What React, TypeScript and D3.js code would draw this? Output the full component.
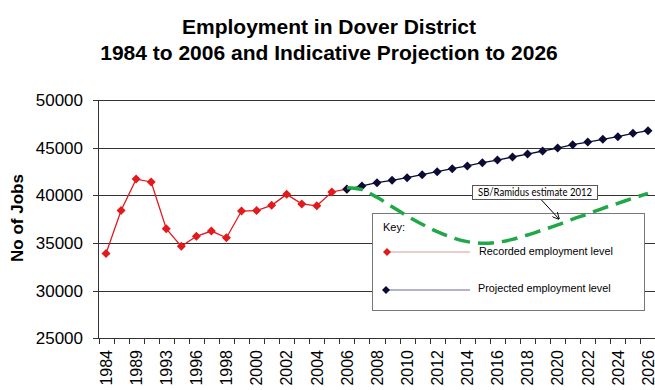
import React from "react";
import * as d3 from "d3";

const categories = [
  "1984", "1987", "1989", "1991", "1993", "1995", "1996", "1997", "1998", "1999",
  "2000", "2001", "2002", "2003", "2004", "2005", "2006", "2007", "2008", "2009",
  "2010", "2011", "2012", "2013", "2014", "2015", "2016", "2017", "2018", "2019",
  "2020", "2021", "2022", "2023", "2024", "2025", "2026",
];
const tickLabels = [
  "1984", "1989", "1993", "1996", "1998", "2000", "2002", "2004", "2006", "2008",
  "2010", "2012", "2014", "2016", "2018", "2020", "2022", "2024", "2026",
];
const recordedYears = categories.slice(0, 17);
const recordedValues = [
  33900, 38400, 41700, 41400, 36500, 34650, 35700, 36250, 35550, 38350,
  38400, 38950, 40100, 39100, 38900, 40350, 40650,
];
const projectedYears = categories.slice(16);
const projectedValues = [
  40630, 40980, 41330, 41570, 41850, 42170, 42480, 42800, 43080, 43420, 43700,
  44020, 44330, 44650, 44960, 45310, 45590, 45870, 46150, 46500, 46780,
];
const estimateValues = [
  40800, 40600, 39790, 38810, 37830, 36960, 36190, 35560, 35140, 34970, 35070,
  35380, 35840, 36360, 36890, 37510, 38040, 38640, 39160, 39690, 40210,
];
const yTicks = [25000, 30000, 35000, 40000, 45000, 50000];

const W = 655;
const H = 390;
const FONT = "'Liberation Sans', Arial, sans-serif";

function Diamond({ x, y, fill, r = 4.5 }: { x: number; y: number; fill: string; r?: number }) {
  return (
    <path
      d={`M${x},${y - r}L${x + r},${y}L${x},${y + r}L${x - r},${y}Z`}
      fill={fill}
    />
  );
}

export default function App() {
  const x = d3.scaleBand<string>().domain(categories).range([98.5, 655.5]).paddingInner(0).paddingOuter(0);
  const cx = (c: string) => (x(c) as number) + x.bandwidth() / 2;
  const y = d3.scaleLinear().domain([25000, 50000]).range([338.3, 100]);

  const line = d3.line<[string, number]>().x((d) => cx(d[0])).y((d) => y(d[1]));
  const smooth = d3
    .line<[string, number]>()
    .x((d) => cx(d[0]))
    .y((d) => y(d[1]))
    .curve(d3.curveCatmullRom.alpha(0.5));

  const recorded = recordedYears.map((c, i) => [c, recordedValues[i]] as [string, number]);
  const projected = projectedYears.map((c, i) => [c, projectedValues[i]] as [string, number]);
  const estimate = projectedYears.map((c, i) => [c, estimateValues[i]] as [string, number]);

  const boundaries = categories.map((c) => x(c) as number).concat([655.5]);

  const red = "#e31a1c";
  const navy = "#0b0b35";
  const green = "#1fa847";

  return (
    <div style={{ position: "absolute", left: 0, top: 0 }}>
      <svg width={W} height={H} style={{ display: "block", background: "#fff" }} fontFamily={FONT}>
        <defs>
          <marker id="arr" viewBox="0 0 10 10" refX="9" refY="5" markerWidth="7" markerHeight="7" orient="auto">
            <path d="M0,0L10,5L0,10" fill="none" stroke="#000" strokeWidth="1.3" />
          </marker>
        </defs>
        {/* title */}
        <text x={329} y={34} textAnchor="middle" fontSize={21} fontWeight="bold" fill="#000">
          Employment in Dover District
        </text>
        <text x={329} y={60} textAnchor="middle" fontSize={21} fontWeight="bold" fill="#000">
          1984 to 2006 and Indicative Projection to 2026
        </text>

        {/* gridlines */}
        {yTicks.map((t) => (
          <line key={t} x1={98.5} x2={655} y1={Math.round(y(t)) + 0.5} y2={Math.round(y(t)) + 0.5} stroke="#333" strokeWidth={1} />
        ))}
        {/* y axis */}
        <line x1={98.5} x2={98.5} y1={100} y2={339} stroke="#333" />
        {yTicks.map((t) => (
          <g key={"yt" + t}>
            <line x1={93} x2={98.5} y1={Math.round(y(t)) + 0.5} y2={Math.round(y(t)) + 0.5} stroke="#333" />
            <text x={83} y={y(t)} dy="0.36em" textAnchor="end" fontSize={17} fill="#000">
              {t}
            </text>
          </g>
        ))}
        <text
          transform={`translate(23,218) rotate(-90)`}
          textAnchor="middle"
          fontSize={17}
          fontWeight="bold"
          fill="#000"
        >
          No of Jobs
        </text>

        {/* x axis ticks */}
        {boundaries.map((b, i) => (
          <line key={"xt" + i} x1={Math.round(b) + 0.5} x2={Math.round(b) + 0.5} y1={338} y2={344} stroke="#333" />
        ))}
        {tickLabels.map((t) => (
          <text
            key={"xl" + t}
            transform={`translate(${cx(t)},350) rotate(-90)`}
            textAnchor="end"
            dy="0.36em"
            fontSize={16}
            fill="#000"
          >
            {t}
          </text>
        ))}

        {/* legend box */}
        <rect x={372.5} y={213.5} width={272} height={97} fill="#fff" stroke="#777" strokeWidth={1} />
        <text x={383} y={231} fontSize={11} fill="#000">Key:</text>
        <line x1={387} x2={470} y1={252} y2={252} stroke="#d99" strokeWidth={1.2} />
        <Diamond x={387} y={252} fill={red} r={4} />
        <text x={479} y={254.5} fontSize={10.8} fill="#000">Recorded employment level</text>
        <line x1={386} x2={470} y1={290} y2={290} stroke="#9a9ab8" strokeWidth={1.5} />
        <Diamond x={386} y={290} fill={navy} r={4} />
        <text x={478} y={292} fontSize={10.8} fill="#000">Projected employment level</text>

        {/* series */}
        <path d={line(recorded) || ""} fill="none" stroke={red} strokeWidth={1.3} />
        <path d={line(projected) || ""} fill="none" stroke={navy} strokeWidth={1.3} />
        {recorded.map((d) => (
          <Diamond key={"r" + d[0]} x={cx(d[0])} y={y(d[1])} fill={red} />
        ))}
        {projected.map((d) => (
          <Diamond key={"p" + d[0]} x={cx(d[0])} y={y(d[1])} fill={navy} />
        ))}
        <path
          d={smooth(estimate) || ""}
          fill="none"
          stroke={green}
          strokeWidth={3.5}
          strokeDasharray="16 8"
        />

        {/* callout */}
        <rect x={472.5} y={185.5} width={125} height={14} fill="#fff" stroke="#555" strokeWidth={1} />
        <text x={535} y={196} textAnchor="middle" fontSize={10.5} fontFamily="Lato, 'Open Sans', sans-serif" fill="#000" textLength={114} lengthAdjust="spacingAndGlyphs">
          SB/Ramidus estimate 2012
        </text>
        <line x1={541.5} y1={200} x2={559} y2={219} stroke="#000" strokeWidth={1} markerEnd="url(#arr)" />
      </svg>
    </div>
  );
}
